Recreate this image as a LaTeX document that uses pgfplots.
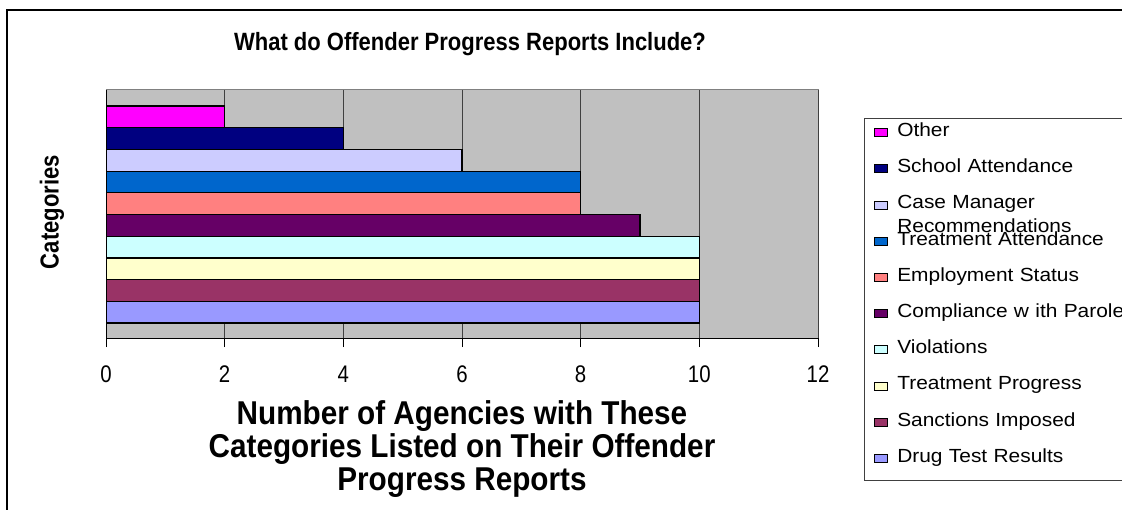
\documentclass[border=0pt]{standalone}
\usepackage{fontspec}
\setmainfont{Liberation Sans}
\newfontfamily\titlefont{Liberation Sans}[FakeStretch=0.88]
\newfontfamily\tickfont{Liberation Sans}[FakeStretch=0.85]
\newfontfamily\legfont{Liberation Sans}[FakeStretch=1.1]
\newfontfamily\labfont{Liberation Sans}[FakeStretch=0.85]
\newfontfamily\xlabfont{Liberation Sans}[FakeStretch=0.9]
\usepackage{pgfplots}
\pgfplotsset{compat=1.18}

\definecolor{cBg}{HTML}{C0C0C0}
\definecolor{cOther}{HTML}{FF00FF}
\definecolor{cSchool}{HTML}{000080}
\definecolor{cCase}{HTML}{CCCCFF}
\definecolor{cTreatAtt}{HTML}{0066CC}
\definecolor{cEmploy}{HTML}{FF8080}
\definecolor{cComply}{HTML}{660066}
\definecolor{cViol}{HTML}{CCFFFF}
\definecolor{cTreatProg}{HTML}{FFFFCC}
\definecolor{cSanct}{HTML}{993366}
\definecolor{cDrug}{HTML}{9999FF}

\pgfplotsset{
  sqleg/.style={legend image code/.code={
    \draw[##1,line width=0.8pt] (0pt,0pt) rectangle (13pt,8pt);}},
}

\begin{document}
\begin{tikzpicture}
\path[use as bounding box] (0pt,0pt) rectangle (1122pt,-510pt);
\clip (0pt,0pt) rectangle (1122pt,-510pt);
\draw[line width=2pt] (7pt,-540pt) -- (7pt,-10pt) -- (1150pt,-10pt);

\node[font=\titlefont\fontsize{25}{28}\selectfont\bfseries] at (470pt,-44pt)
  {What do Offender Progress Reports Include?};
\node[rotate=90, font=\labfont\fontsize{26}{28}\selectfont\bfseries] at (52pt,-212pt)
  {Categories};

\begin{axis}[
  at={(106pt,-338pt)}, anchor=south west,
  scale only axis, width=712pt, height=248pt,
  xbar, bar shift=0pt, bar width=1,
  xmin=0, xmax=12, ymin=-0.19, ymax=11.24,
  xtick={0,2,...,12}, ytick=\empty,
  axis x line*=bottom, axis y line*=left,
  axis line style={black, line width=1pt},
  axis background/.style={fill=cBg, draw=black!50, line width=1pt},
  xmajorgrids, grid style={black!75, line width=0.8pt},
  tick align=outside, major tick length=9pt,
  tick style={black, line width=0.8pt},
  /pgf/number format/assume math mode=true,
  xticklabel style={font=\tickfont\fontsize{24}{28}\selectfont, yshift=-15pt},
  xlabel={Number of Agencies with These\\Categories Listed on Their Offender\\Progress Reports},
  xlabel style={font=\xlabfont\fontsize{33}{33}\selectfont\bfseries, align=center,
    at={(axis description cs:0.5,-0.25)}, anchor=north, inner sep=0pt},
  reverse legend,
  legend style={
    at={(axis description cs:1.0646,0.887)}, anchor=north west,
    draw=black!75, line width=1pt,
    font=\legfont\fontsize{19}{22}\selectfont,
    inner xsep=9pt, inner ysep=0pt, row sep=0pt, column sep=10pt,
    nodes={inner sep=0pt, text height=18pt, text depth=18.2pt,
      text width=240pt, align=left},
  },
  legend cell align=left,
]
\addplot[fill=cDrug, draw=black, line width=1.2pt, sqleg] coordinates {(10,1)};
\addplot[fill=cSanct, draw=black, line width=1.2pt, sqleg] coordinates {(10,2)};
\addplot[fill=cTreatProg, draw=black, line width=1.2pt, sqleg] coordinates {(10,3)};
\addplot[fill=cViol, draw=black, line width=1.2pt, sqleg] coordinates {(10,4)};
\addplot[fill=cComply, draw=black, line width=1.2pt, sqleg] coordinates {(9,5)};
\addplot[fill=cEmploy, draw=black, line width=1.2pt, sqleg] coordinates {(8,6)};
\addplot[fill=cTreatAtt, draw=black, line width=1.2pt, sqleg] coordinates {(8,7)};
\addplot[fill=cCase, draw=black, line width=1.2pt, sqleg] coordinates {(6,8)};
\addplot[fill=cSchool, draw=black, line width=1.2pt, sqleg] coordinates {(4,9)};
\addplot[fill=cOther, draw=black, line width=1.2pt, sqleg] coordinates {(2,10)};
\legend{Drug Test Results, Sanctions Imposed, Treatment Progress, Violations,
  Compliance w ith Parole, Employment Status, Treatment Attendance,
  {\smash{\parbox[t]{240pt}{\baselineskip=24pt Case Manager\\Recommendations}}},
  School Attendance, Other}
\end{axis}
\end{tikzpicture}
\end{document}
